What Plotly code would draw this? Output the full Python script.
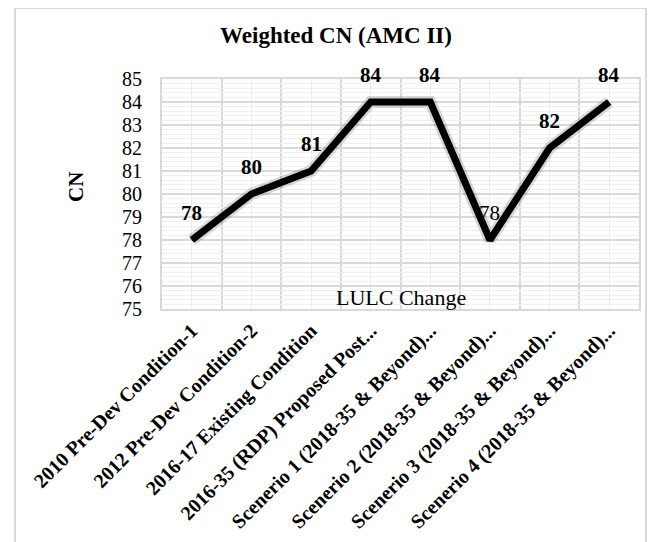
import plotly.graph_objects as go

categories = [
    "2010 Pre-Dev Condition-1",
    "2012 Pre-Dev Condition-2",
    "2016-17 Existing Condition",
    "2016-35 (RDP) Proposed Post...",
    "Scenerio 1 (2018-35 & Beyond)...",
    "Scenerio 2 (2018-35 & Beyond)...",
    "Scenerio 3 (2018-35 & Beyond)...",
    "Scenerio 4 (2018-35 & Beyond)...",
]
cn_values = [78, 80, 81, 84, 84, 78, 82, 84]
y_ticks = list(range(75, 86))
title_text = "Weighted CN (AMC II)"
x_title = "LULC Change"
y_title = "CN"

FONT = "Liberation Serif"
xs = list(range(len(categories)))

fig = go.Figure()
# soft shadow behind line
fig.add_trace(go.Scatter(
    x=xs, y=cn_values, mode="lines",
    line=dict(color="rgba(0,0,0,0.15)", width=12),
    hoverinfo="skip", showlegend=False,
))
fig.add_trace(go.Scatter(
    x=xs, y=cn_values, mode="lines",
    line=dict(color="black", width=7),
    showlegend=False,
))

for xi, v in zip(xs, cn_values):
    label = f"{v}" if xi == 5 else f"<b>{v}</b>"
    fig.add_annotation(
        x=xi, y=v, text=label, showarrow=False,
        yshift=27, font=dict(family=FONT, size=21, color="black"),
    )

fig.add_annotation(
    x=0.5, y=0.05, xref="paper", yref="paper", text=x_title, showarrow=False,
    font=dict(family=FONT, size=22, color="black"), yanchor="middle",
)
fig.add_annotation(
    x=-0.21, y=0.53, xref="paper", yref="paper", text=f"<b>{y_title}</b>",
    showarrow=False, textangle=-90,
    font=dict(family=FONT, size=21, color="black"),
)

# outer chart border
fig.add_shape(
    type="rect", xref="paper", yref="paper",
    x0=-0.308, x1=1.0147, y0=-1.05, y1=1.3087,
    line=dict(color="#d9d9d9", width=2), fillcolor="rgba(0,0,0,0)", layer="below",
)

fig.update_layout(
    width=656, height=542,
    margin=dict(l=154, r=25, t=71, b=241, autoexpand=False),
    paper_bgcolor="white", plot_bgcolor="white",
    title=dict(text=f"<b>{title_text}</b>", x=0.5, xanchor="center", y=1 - 27 / 542,
               yanchor="middle", xref="container",
               font=dict(family=FONT, size=23, color="black")),
    font=dict(family=FONT, color="black"),
)
fig.update_xaxes(
    automargin=False,
    range=[-0.5, len(categories) - 0.5],
    tickmode="array", tickvals=xs,
    ticktext=[f"<b>{c}</b>" for c in categories],
    tickangle=-45, tickfont=dict(family=FONT, size=20, color="black"),
    showgrid=True, gridcolor="#ececec", gridwidth=1,
    minor=dict(tickmode="array", tickvals=[i - 0.5 for i in range(len(categories) + 1)],
               showgrid=True, gridcolor="#d9d9d9", gridwidth=1.5, ticklen=0),
    zeroline=False, showline=True, linecolor="#d9d9d9", linewidth=2, mirror=True,
    ticks="",
)
fig.update_yaxes(
    automargin=False,
    range=[75, 85], tickmode="array", tickvals=y_ticks,
    tickfont=dict(family=FONT, size=20, color="black"),
    showgrid=True, gridcolor="#d9d9d9", gridwidth=1.5,
    minor=dict(dtick=0.2, showgrid=True, gridcolor="#f0f0f0", gridwidth=1, ticklen=0),
    zeroline=False, showline=True, linecolor="#d9d9d9", linewidth=2, mirror=True,
    ticks="", ticklabelstandoff=14,
)

fig.write_html("out.html")
